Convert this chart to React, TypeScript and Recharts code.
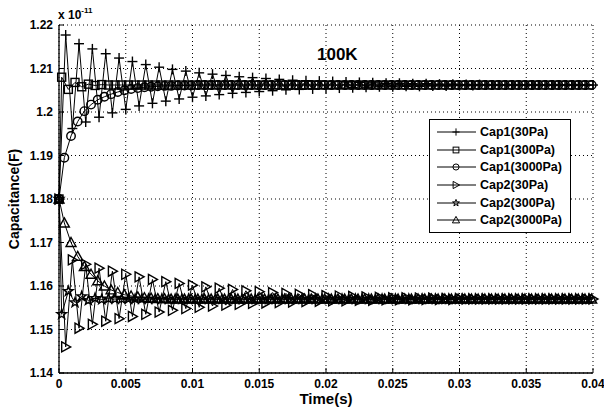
import React from "react";
import { LineChart, Line, CartesianGrid, XAxis, YAxis } from "recharts";

// sample times (s) of the 30Pa runs
const timesA = [
  0, 0.0005, 0.001, 0.0015, 0.002, 0.0025, 0.003, 0.0035, 0.004, 0.0045,
  0.005, 0.0055, 0.006, 0.0065, 0.007, 0.0075, 0.008, 0.0085, 0.009, 0.0095,
  0.01, 0.0105, 0.011, 0.0115, 0.012, 0.0125, 0.013, 0.0135, 0.014, 0.0145,
  0.015, 0.0155, 0.016, 0.0165, 0.017, 0.0175, 0.018, 0.0185, 0.019, 0.0195,
  0.02, 0.0205, 0.021, 0.0215, 0.022, 0.0225, 0.023, 0.0235, 0.024, 0.0245,
  0.025, 0.0255, 0.026, 0.0265, 0.027, 0.0275, 0.028, 0.0285, 0.029, 0.0295,
  0.03, 0.0305, 0.031, 0.0315, 0.032, 0.0325, 0.033, 0.0335, 0.034, 0.0345,
  0.035, 0.0355, 0.036, 0.0365, 0.037, 0.0375, 0.038, 0.0385, 0.039, 0.0395,
  0.04,
];
// sample times of the 300Pa runs
const timesB = [
  0, 0.0002, 0.0007, 0.0012, 0.0017, 0.0022, 0.0027, 0.0032, 0.0037, 0.0042,
  0.0047, 0.0052, 0.0057, 0.0062, 0.0067, 0.0072, 0.0077, 0.0082, 0.0087, 0.0092,
  0.0097, 0.0102, 0.0107, 0.0112, 0.0117, 0.0122, 0.0127, 0.0132, 0.0137, 0.0142,
  0.0147, 0.0152, 0.0157, 0.0162, 0.0167, 0.0172, 0.0177, 0.0182, 0.0187, 0.0192,
  0.0197, 0.0202, 0.0207, 0.0212, 0.0217, 0.0222, 0.0227, 0.0232, 0.0237, 0.0242,
  0.0247, 0.0252, 0.0257, 0.0262, 0.0267, 0.0272, 0.0277, 0.0282, 0.0287, 0.0292,
  0.0297, 0.0302, 0.0307, 0.0312, 0.0317, 0.0322, 0.0327, 0.0332, 0.0337, 0.0342,
  0.0347, 0.0352, 0.0357, 0.0362, 0.0367, 0.0372, 0.0377, 0.0382, 0.0387, 0.0392,
  0.0397,
];
// sample times of the 3000Pa runs
const timesC = [
  0, 0.0004, 0.0009, 0.0014, 0.0019, 0.0024, 0.0029, 0.0034, 0.0039, 0.0044,
  0.0049, 0.0054, 0.0059, 0.0064, 0.0069, 0.0074, 0.0079, 0.0084, 0.0089, 0.0094,
  0.0099, 0.0104, 0.0109, 0.0114, 0.0119, 0.0124, 0.0129, 0.0134, 0.0139, 0.0144,
  0.0149, 0.0154, 0.0159, 0.0164, 0.0169, 0.0174, 0.0179, 0.0184, 0.0189, 0.0194,
  0.0199, 0.0204, 0.0209, 0.0214, 0.0219, 0.0224, 0.0229, 0.0234, 0.0239, 0.0244,
  0.0249, 0.0254, 0.0259, 0.0264, 0.0269, 0.0274, 0.0279, 0.0284, 0.0289, 0.0294,
  0.0299, 0.0304, 0.0309, 0.0314, 0.0319, 0.0324, 0.0329, 0.0334, 0.0339, 0.0344,
  0.0349, 0.0354, 0.0359, 0.0364, 0.0369, 0.0374, 0.0379, 0.0384, 0.0389, 0.0394,
  0.0399,
];

// capacitance, x 1e-11 F
const cap1_30 = [
  1.18, 1.2177, 1.1962, 1.2157, 1.1977, 1.2145, 1.1988, 1.2134, 1.1998, 1.2124,
  1.2006, 1.2116, 1.2014, 1.2109, 1.202, 1.2103, 1.2025, 1.2098, 1.203, 1.2094,
  1.2034, 1.209, 1.2037, 1.2087, 1.204, 1.2084, 1.2043, 1.2081, 1.2045, 1.2079,
  1.2047, 1.2077, 1.2049, 1.2075, 1.2051, 1.2073, 1.2052, 1.2072, 1.2053, 1.2071,
  1.2054, 1.207, 1.2055, 1.2069, 1.2056, 1.2068, 1.2057, 1.2067, 1.2058, 1.2066,
  1.2058, 1.2066, 1.2059, 1.2065, 1.2059, 1.2065, 1.206, 1.2064, 1.206, 1.2064,
  1.2061, 1.2063, 1.2061, 1.2063, 1.2062, 1.2062, 1.2062, 1.2062, 1.2062, 1.2062,
  1.2062, 1.2062, 1.2062, 1.2062, 1.2062, 1.2062, 1.2062, 1.2062, 1.2062, 1.2062,
  1.2062,
];
const cap1_300 = [
  1.18, 1.208, 1.2052, 1.2068, 1.2058, 1.2064, 1.2061, 1.2063, 1.2062, 1.2062,
  1.2062, 1.2062, 1.2062, 1.2062, 1.2062, 1.2062, 1.2062, 1.2062, 1.2062, 1.2062,
  1.2062, 1.2062, 1.2062, 1.2062, 1.2062, 1.2062, 1.2062, 1.2062, 1.2062, 1.2062,
  1.2062, 1.2062, 1.2062, 1.2062, 1.2062, 1.2062, 1.2062, 1.2062, 1.2062, 1.2062,
  1.2062, 1.2062, 1.2062, 1.2062, 1.2062, 1.2062, 1.2062, 1.2062, 1.2062, 1.2062,
  1.2062, 1.2062, 1.2062, 1.2062, 1.2062, 1.2062, 1.2062, 1.2062, 1.2062, 1.2062,
  1.2062, 1.2062, 1.2062, 1.2062, 1.2062, 1.2062, 1.2062, 1.2062, 1.2062, 1.2062,
  1.2062, 1.2062, 1.2062, 1.2062, 1.2062, 1.2062, 1.2062, 1.2062, 1.2062, 1.2062,
  1.2062,
];
const cap1_3000 = [
  1.18, 1.1895, 1.1945, 1.1978, 1.2002, 1.2017, 1.2028, 1.2035, 1.2041, 1.2046,
  1.205, 1.2053, 1.2055, 1.2057, 1.2058, 1.2059, 1.206, 1.206, 1.2061, 1.2061,
  1.2061, 1.2062, 1.2062, 1.2062, 1.2062, 1.2062, 1.2062, 1.2062, 1.2062, 1.2062,
  1.2062, 1.2062, 1.2062, 1.2062, 1.2062, 1.2062, 1.2062, 1.2062, 1.2062, 1.2062,
  1.2062, 1.2062, 1.2062, 1.2062, 1.2062, 1.2062, 1.2062, 1.2062, 1.2062, 1.2062,
  1.2062, 1.2062, 1.2062, 1.2062, 1.2062, 1.2062, 1.2062, 1.2062, 1.2062, 1.2062,
  1.2062, 1.2062, 1.2062, 1.2062, 1.2062, 1.2062, 1.2062, 1.2062, 1.2062, 1.2062,
  1.2062, 1.2062, 1.2062, 1.2062, 1.2062, 1.2062, 1.2062, 1.2062, 1.2062, 1.2062,
  1.2062,
];
const cap2_30 = [
  1.18, 1.146, 1.166, 1.1503, 1.165, 1.1512, 1.1641, 1.1519, 1.1634, 1.1525,
  1.1627, 1.153, 1.1621, 1.1535, 1.1615, 1.154, 1.161, 1.1544, 1.1606, 1.1548,
  1.1602, 1.1551, 1.1598, 1.1554, 1.1595, 1.1556, 1.1592, 1.1558, 1.1589, 1.156,
  1.1587, 1.1561, 1.1585, 1.1562, 1.1583, 1.1563, 1.1581, 1.1564, 1.158, 1.1565,
  1.1578, 1.1566, 1.1577, 1.1566, 1.1576, 1.1567, 1.1575, 1.1567, 1.1574, 1.1568,
  1.1573, 1.1568, 1.1573, 1.1568, 1.1572, 1.1569, 1.1572, 1.1569, 1.1571, 1.1569,
  1.1571, 1.157, 1.157, 1.157, 1.157, 1.157, 1.157, 1.157, 1.157, 1.157,
  1.157, 1.157, 1.157, 1.157, 1.157, 1.157, 1.157, 1.157, 1.157, 1.157,
  1.157,
];
const cap2_300 = [
  1.18, 1.1535, 1.1588, 1.1562, 1.1576, 1.1567, 1.1572, 1.1569, 1.1571, 1.157,
  1.157, 1.157, 1.157, 1.157, 1.157, 1.157, 1.157, 1.157, 1.157, 1.157,
  1.157, 1.157, 1.157, 1.157, 1.157, 1.157, 1.157, 1.157, 1.157, 1.157,
  1.157, 1.157, 1.157, 1.157, 1.157, 1.157, 1.157, 1.157, 1.157, 1.157,
  1.157, 1.157, 1.157, 1.157, 1.157, 1.157, 1.157, 1.157, 1.157, 1.157,
  1.157, 1.157, 1.157, 1.157, 1.157, 1.157, 1.157, 1.157, 1.157, 1.157,
  1.157, 1.157, 1.157, 1.157, 1.157, 1.157, 1.157, 1.157, 1.157, 1.157,
  1.157, 1.157, 1.157, 1.157, 1.157, 1.157, 1.157, 1.157, 1.157, 1.157,
  1.157,
];
const cap2_3000 = [
  1.18, 1.1745, 1.17, 1.1668, 1.1645, 1.1627, 1.1612, 1.16, 1.1591, 1.1585,
  1.158, 1.1577, 1.1575, 1.1573, 1.1572, 1.1571, 1.1571, 1.157, 1.157, 1.157,
  1.157, 1.157, 1.157, 1.157, 1.157, 1.157, 1.157, 1.157, 1.157, 1.157,
  1.157, 1.157, 1.157, 1.157, 1.157, 1.157, 1.157, 1.157, 1.157, 1.157,
  1.157, 1.157, 1.157, 1.157, 1.157, 1.157, 1.157, 1.157, 1.157, 1.157,
  1.157, 1.157, 1.157, 1.157, 1.157, 1.157, 1.157, 1.157, 1.157, 1.157,
  1.157, 1.157, 1.157, 1.157, 1.157, 1.157, 1.157, 1.157, 1.157, 1.157,
  1.157, 1.157, 1.157, 1.157, 1.157, 1.157, 1.157, 1.157, 1.157, 1.157,
  1.157,
];

const xTicks = [0, 0.005, 0.01, 0.015, 0.02, 0.025, 0.03, 0.035, 0.04];
const yTicks = [1.14, 1.15, 1.16, 1.17, 1.18, 1.19, 1.2, 1.21, 1.22];

const series = [
  { key: "c1a", name: "Cap1(30Pa)", shape: "plus", times: timesA, values: cap1_30 },
  { key: "c1b", name: "Cap1(300Pa)", shape: "square", times: timesB, values: cap1_300 },
  { key: "c1c", name: "Cap1(3000Pa)", shape: "circle", times: timesC, values: cap1_3000 },
  { key: "c2a", name: "Cap2(30Pa)", shape: "tri-right", times: timesA, values: cap2_30 },
  { key: "c2b", name: "Cap2(300Pa)", shape: "star", times: timesB, values: cap2_300 },
  { key: "c2c", name: "Cap2(3000Pa)", shape: "tri-up", times: timesC, values: cap2_3000 },
];

const FONT = "'Liberation Sans', Arial, sans-serif";

function starPoints(cx: number, cy: number, r: number) {
  const pts: string[] = [];
  for (let k = 0; k < 10; k++) {
    const a = -Math.PI / 2 + (k * Math.PI) / 5;
    const rr = k % 2 === 0 ? r : r * 0.4;
    pts.push(`${cx + rr * Math.cos(a)},${cy + rr * Math.sin(a)}`);
  }
  return pts.join(" ");
}

function Mark({ shape, cx, cy, s = 5, w = 1.4 }: { shape: string; cx: number; cy: number; s?: number; w?: number }) {
  const st = { stroke: "#000", strokeWidth: w, fill: "none" };
  if (cx == null || cy == null) return null;
  switch (shape) {
    case "plus":
      return (
        <g {...st}>
          <line x1={cx - s} y1={cy} x2={cx + s} y2={cy} />
          <line x1={cx} y1={cy - s} x2={cx} y2={cy + s} />
        </g>
      );
    case "square":
      return <rect x={cx - s * 0.8} y={cy - s * 0.8} width={s * 1.6} height={s * 1.6} {...st} />;
    case "circle":
      return <circle cx={cx} cy={cy} r={s * 0.85} {...st} />;
    case "tri-right":
      return <polygon points={`${cx - s * 0.8},${cy - s} ${cx + s},${cy} ${cx - s * 0.8},${cy + s}`} {...st} />;
    case "tri-up":
      return <polygon points={`${cx},${cy - s} ${cx + s},${cy + s * 0.8} ${cx - s},${cy + s * 0.8}`} {...st} />;
    default:
      return <polygon points={starPoints(cx, cy, s)} {...st} />;
  }
}

const dotFor = (shape: string) => (p: any) => (
  <Mark key={`${shape}-${p.index}`} shape={shape} cx={p.cx} cy={p.cy} />
);

function LegendBox() {
  return (
    <div
      style={{
        position: "absolute",
        left: 429,
        top: 119,
        width: 134,
        border: "1.5px solid #000",
        background: "#fff",
        padding: "3px 0 3px 6px",
        fontFamily: FONT,
        fontWeight: "bold",
        fontSize: 12.5,
      }}
    >
      {series.map((s) => (
        <div key={s.key} style={{ display: "flex", alignItems: "center", height: 17.7 }}>
          <svg width={42} height={14} style={{ marginRight: 2 }}>
            <line x1={1} y1={7} x2={40} y2={7} stroke="#000" strokeWidth={1} />
            <Mark shape={s.shape} cx={20} cy={7} s={3.6} w={1} />
          </svg>
          <span>{s.name}</span>
        </div>
      ))}
    </div>
  );
}

export default function App() {
  const tickStyle = { fontSize: 12, fontWeight: "bold", fill: "#000", fontFamily: FONT };
  return (
    <div style={{ position: "absolute", left: 0, top: 0, width: 604, height: 412, background: "#fff" }}>
      <LineChart width={604} height={412} margin={{ top: 25, right: 11, bottom: 0, left: 0 }}>
        <CartesianGrid stroke="#000" strokeDasharray="1 3" strokeWidth={1} />
        <XAxis
          dataKey="t"
          type="number"
          domain={[0, 0.04]}
          ticks={xTicks}
          interval={0}
          height={39}
          tick={tickStyle}
          tickSize={-5}
          tickMargin={11}
          axisLine={{ stroke: "#000", strokeWidth: 1.3 }}
          tickLine={{ stroke: "#000" }}
          allowDuplicatedCategory={false}
          label={{ value: "Time(s)", position: "insideBottom", offset: 8, style: { fontSize: 15, fontWeight: "bold", fill: "#000", fontFamily: FONT } }}
        />
        <XAxis
          xAxisId="top"
          orientation="top"
          type="number"
          domain={[0, 0.04]}
          ticks={xTicks}
          interval={0}
          height={0}
          tickFormatter={() => ""}
          tickSize={-5}
          axisLine={{ stroke: "#000", strokeWidth: 1.3 }}
          tickLine={{ stroke: "#000" }}
        />
        <YAxis
          type="number"
          domain={[1.14, 1.22]}
          ticks={yTicks}
          interval={0}
          width={59}
          tick={tickStyle}
          tickSize={-5}
          tickMargin={11}
          axisLine={{ stroke: "#000", strokeWidth: 1.3 }}
          tickLine={{ stroke: "#000" }}
          label={{ value: "Capacitance(F)", angle: -90, position: "insideLeft", offset: 14, style: { textAnchor: "middle", fontSize: 14, fontWeight: "bold", fill: "#000", fontFamily: FONT } }}
        />
        <YAxis
          yAxisId="right"
          orientation="right"
          type="number"
          domain={[1.14, 1.22]}
          ticks={yTicks}
          interval={0}
          width={0}
          tickFormatter={() => ""}
          tickSize={-5}
          axisLine={{ stroke: "#000", strokeWidth: 1.3 }}
          tickLine={{ stroke: "#000" }}
        />
        {series.map((s) => (
          <Line
            key={s.key}
            data={s.times.map((t, i) => ({ t, v: s.values[i] }))}
            dataKey="v"
            name={s.name}
            type="linear"
            stroke="#000"
            strokeWidth={1}
            dot={dotFor(s.shape)}
            activeDot={false}
            isAnimationActive={false}
          />
        ))}
      </LineChart>
      <LegendBox />
      <div style={{ position: "absolute", left: 58, top: 6, fontFamily: FONT, fontWeight: "bold", fontSize: 12 }}>
        x 10<sup style={{ fontSize: 8, verticalAlign: "6px" }}>-11</sup>
      </div>
      <div style={{ position: "absolute", left: 317, top: 45, fontFamily: FONT, fontWeight: "bold", fontSize: 17 }}>
        100K
      </div>
    </div>
  );
}
